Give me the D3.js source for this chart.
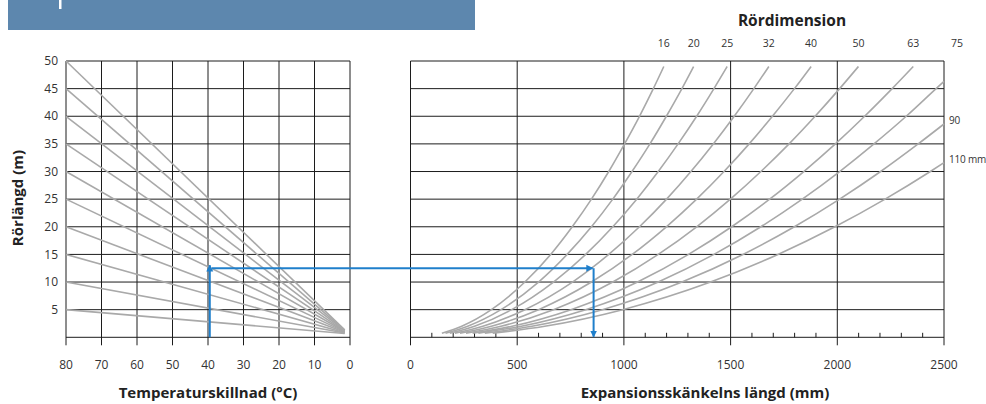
<!DOCTYPE html>
<html>
<head>
<meta charset="utf-8">
<script src="https://cdn.jsdelivr.net/npm/d3@7"></script>
<style>
  html, body { margin: 0; padding: 0; background: #fff; }
  svg { display: block; font-family: "Open Sans", "Noto Sans", sans-serif; }
</style>
</head>
<body>
<svg id="chart" width="986" height="404"></svg>
<script>
// ---- data -------------------------------------------------------------
// left panel: temperature difference (°C) vs pipe length (m)
const tempTicks = [80, 70, 60, 50, 40, 30, 20, 10, 0];
const lengthTicks = [5, 10, 15, 20, 25, 30, 35, 40, 45, 50];
const pipeLengths = [5, 10, 15, 20, 25, 30, 35, 40, 45, 50];
const fanStartTemp = 80;
const fanEndTemp = 1.5;
const fanEndLength = [0.7, 0.77, 0.84, 0.91, 0.98, 1.05, 1.12, 1.19, 1.26, 1.33];

// right panel: expansion leg length (mm) per pipe dimension
const legTicks = [0, 500, 1000, 1500, 2000, 2500];
const legMinorTicks = [100, 200, 300, 400, 600, 700, 800, 900, 1100, 1200, 1300, 1400,
  1600, 1700, 1800, 1900, 2100, 2200, 2300, 2400];
const dimensions = ["16", "20", "25", "32", "40", "50", "63", "75", "90", "110"];

// each curve: [leg length mm, value m]
const curve16 = [[147,0.75],[240,2],[379,5],[536,10],[657,15],[758,20],[848,25],[929,30],[1003,35],[1073,40],[1138,45],[1187,49]];
const curve20 = [[164,0.75],[268,2],[424,5],[600,10],[734,15],[848,20],[948,25],[1038,30],[1122,35],[1199,40],[1272,45],[1327,49]];
const curve25 = [[184,0.75],[300,2],[474,5],[670,10],[821,15],[948,20],[1060,25],[1161,30],[1254,35],[1341,40],[1422,45],[1484,49]];
const curve32 = [[208,0.75],[339,2],[536,5],[759,10],[929,15],[1073,20],[1200,25],[1314,30],[1419,35],[1517,40],[1609,45],[1679,49]];
const curve40 = [[232,0.75],[379,2],[600,5],[848,10],[1039,15],[1199,20],[1341,25],[1469,30],[1587,35],[1696,40],[1799,45],[1877,49]];
const curve50 = [[260,0.75],[424,2],[670,5],[948,10],[1161,15],[1341,20],[1499,25],[1642,30],[1774,35],[1896,40],[2011,45],[2099,49]];
const curve63 = [[291,0.75],[476,2],[752,5],[1064,10],[1303,15],[1505,20],[1683,25],[1843,30],[1991,35],[2128,40],[2257,45],[2356,49]];
const curve75 = [[318,0.75],[519,2],[821,5],[1161,10],[1422,15],[1642,20],[1836,25],[2011,30],[2172,35],[2323,40],[2463,45],[2500,46.3]];
const curve90 = [[348,0.75],[569,2],[899,5],[1272,10],[1558,15],[1799,20],[2011,25],[2203,30],[2379,35],[2500,38.6]];
const curve110 = [[385,0.75],[629,2],[994,5],[1406,10],[1722,15],[1989,20],[2224,25],[2436,30],[2500,31.6]];
const curves = [curve16, curve20, curve25, curve32, curve40, curve50, curve63, curve75, curve90, curve110];

// worked example path
const exampleTemp = 39.5;
const exampleLength = 12.5;
const exampleLeg = 858;

// ---- layout -----------------------------------------------------------
const svg = d3.select("#chart");
const gridColor = "#1c1c1c";
const curveColor = "#a9a9a9";
const blue = "#1f7fcb";
const textColor = "#333";

const y = d3.scaleLinear().domain([0, 50]).range([337.3, 61]);
const xL = d3.scaleLinear().domain([80, 0]).range([66, 350]);
const xR = d3.scaleLinear().domain([0, 2500]).range([410.5, 944]);
const tickDrop = 8;

// header band
svg.append("rect").attr("x", 8).attr("y", 0).attr("width", 467).attr("height", 30).attr("fill", "#5d87ae");
svg.append("rect").attr("x", 59).attr("y", 0).attr("width", 2.5).attr("height", 9).attr("fill", "#fff");

// ---- left panel -------------------------------------------------------
const left = svg.append("g");
// horizontal grid (including the baseline)
left.selectAll("line.h").data([0].concat(lengthTicks)).join("line")
  .attr("x1", xL(80)).attr("x2", xL(0))
  .attr("y1", d => y(d)).attr("y2", d => y(d))
  .attr("stroke", gridColor).attr("stroke-width", 1);
// vertical grid, extending below the baseline as ticks
left.selectAll("line.v").data(tempTicks).join("line")
  .attr("x1", d => xL(d)).attr("x2", d => xL(d))
  .attr("y1", y(50)).attr("y2", y(0) + tickDrop)
  .attr("stroke", gridColor).attr("stroke-width", 1);

// fan of pipe length lines
left.selectAll("line.fan").data(pipeLengths).join("line")
  .attr("x1", xL(fanStartTemp)).attr("y1", d => y(d))
  .attr("x2", xL(fanEndTemp)).attr("y2", (d, i) => y(fanEndLength[i]))
  .attr("stroke", curveColor).attr("stroke-width", 1.6);

// y tick labels
left.selectAll("text.yl").data(lengthTicks).join("text")
  .attr("x", 58).attr("y", d => y(d)).attr("dy", "0.35em")
  .attr("text-anchor", "end").attr("font-size", 12).attr("fill", textColor)
  .text(d => d);
// x tick labels
left.selectAll("text.xl").data(tempTicks).join("text")
  .attr("x", d => xL(d)).attr("y", 365).attr("dy", "0.35em")
  .attr("text-anchor", "middle").attr("font-size", 12).attr("fill", textColor)
  .text(d => d);

// ---- right panel ------------------------------------------------------
const right = svg.append("g");
right.selectAll("line.h").data([0].concat(lengthTicks)).join("line")
  .attr("x1", xR(0)).attr("x2", xR(2500))
  .attr("y1", d => y(d)).attr("y2", d => y(d))
  .attr("stroke", gridColor).attr("stroke-width", 1);
right.selectAll("line.v").data(legTicks).join("line")
  .attr("x1", d => xR(d)).attr("x2", d => xR(d))
  .attr("y1", y(50)).attr("y2", y(0) + tickDrop)
  .attr("stroke", gridColor).attr("stroke-width", 1);
right.selectAll("line.minor").data(legMinorTicks).join("line")
  .attr("x1", d => xR(d)).attr("x2", d => xR(d))
  .attr("y1", y(0) - 4.5).attr("y2", y(0))
  .attr("stroke", gridColor).attr("stroke-width", 1);

const line = d3.line().x(d => xR(d[0])).y(d => y(d[1])).curve(d3.curveMonotoneX);
right.selectAll("path.curve").data(curves).join("path")
  .attr("d", line).attr("fill", "none")
  .attr("stroke", curveColor).attr("stroke-width", 1.6);

right.selectAll("text.xl").data(legTicks).join("text")
  .attr("x", d => xR(d)).attr("y", 365).attr("dy", "0.35em")
  .attr("text-anchor", "middle").attr("font-size", 12).attr("fill", textColor)
  .text(d => d);

// dimension labels: along the top for curves leaving through the top edge
// (and the first one leaving at the right corner), at the side for the rest
const topCount = 8;
right.selectAll("text.dim").data(dimensions.slice(0, topCount)).join("text")
  .attr("x", (d, i) => {
    const last = curves[i][curves[i].length - 1];
    return xR(last[0]) + (last[0] >= 2500 ? 13 : 0);
  })
  .attr("y", 47).attr("text-anchor", "middle").attr("font-size", 10.5).attr("fill", textColor)
  .text(d => d);
right.selectAll("text.dimSide").data(dimensions.slice(topCount)).join("text")
  .attr("x", xR(2500) + 5)
  .attr("y", (d, i) => y(curves[topCount + i][curves[topCount + i].length - 1][1]) - 3)
  .attr("dy", "0.35em").attr("font-size", 10).attr("letter-spacing", -0.2).attr("fill", textColor)
  .text((d, i) => i === dimensions.length - topCount - 1 ? d + " mm" : d);

svg.append("text").attr("x", 792).attr("y", 26)
  .attr("text-anchor", "middle").attr("font-size", 15.5).attr("font-weight", 700).attr("fill", "#222")
  .text("Rördimension");

// ---- worked example arrows -------------------------------------------
const defs = svg.append("defs");
defs.append("marker").attr("id", "arrow").attr("viewBox", "0 0 10 10")
  .attr("refX", 9).attr("refY", 5).attr("markerWidth", 7).attr("markerHeight", 8)
  .attr("markerUnits", "userSpaceOnUse").attr("orient", "auto")
  .append("path").attr("d", "M0,0 L10,5 L0,10 Z").attr("fill", blue);

const ex = svg.append("g").attr("stroke", blue).attr("stroke-width", 2).attr("fill", "none");
ex.append("line")
  .attr("x1", xL(exampleTemp)).attr("y1", y(0))
  .attr("x2", xL(exampleTemp)).attr("y2", y(exampleLength) - 3)
  .attr("marker-end", "url(#arrow)");
ex.append("line")
  .attr("x1", xL(exampleTemp) + 2).attr("y1", y(exampleLength))
  .attr("x2", xR(exampleLeg) - 1).attr("y2", y(exampleLength))
  .attr("marker-end", "url(#arrow)");
ex.append("line")
  .attr("x1", xR(exampleLeg)).attr("y1", y(exampleLength))
  .attr("x2", xR(exampleLeg)).attr("y2", y(0) - 0.5)
  .attr("marker-end", "url(#arrow)");

// ---- axis titles ------------------------------------------------------
svg.append("text").attr("x", 208).attr("y", 398)
  .attr("text-anchor", "middle").attr("font-size", 15).attr("font-weight", 700).attr("fill", "#222")
  .text("Temperaturskillnad (°C)");
svg.append("text").attr("x", 705).attr("y", 398)
  .attr("text-anchor", "middle").attr("font-size", 15).attr("font-weight", 700).attr("fill", "#222")
  .text("Expansionsskänkelns längd (mm)");
svg.append("text")
  .attr("transform", "translate(23,198) rotate(-90)")
  .attr("text-anchor", "middle").attr("font-size", 15).attr("font-weight", 700).attr("fill", "#222")
  .text("Rörlängd (m)");
</script>
</body>
</html>
